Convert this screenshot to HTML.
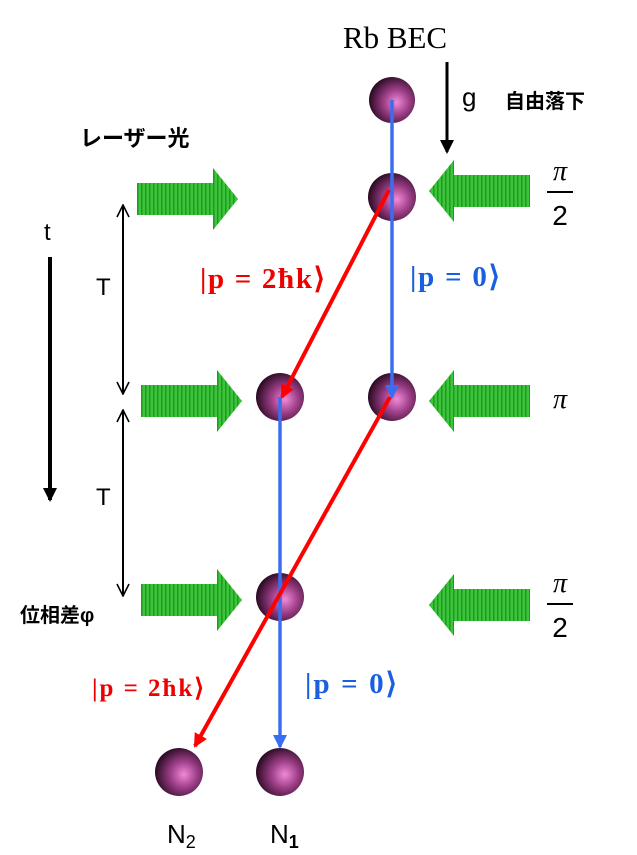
<!DOCTYPE html>
<html><head><meta charset="utf-8"><style>
html,body{margin:0;padding:0;background:#fff;}
svg{display:block}
</style></head><body>
<svg width="637" height="855" viewBox="0 0 637 855" xmlns="http://www.w3.org/2000/svg">
<defs>
<radialGradient id="ball" cx="0.6" cy="0.55" r="0.6">
<stop offset="0" stop-color="#f08ad8"/><stop offset="0.45" stop-color="#a0408a"/><stop offset="1" stop-color="#2a0a22"/>
</radialGradient>
<pattern id="stripe" width="4" height="4" patternUnits="userSpaceOnUse">
<rect width="4" height="4" fill="#3cc43c"/><rect width="1.5" height="4" fill="#1e9a1e"/>
</pattern>
<marker id="ab" markerWidth="14" markerHeight="14" refX="12" refY="7" orient="auto" markerUnits="userSpaceOnUse"><path d="M0,0 L14,7 L0,14z" fill="#000"/></marker>
<marker id="ao" markerWidth="14" markerHeight="14" refX="13" refY="7" orient="auto-start-reverse" markerUnits="userSpaceOnUse"><path d="M1,1 L13,7 L1,13" fill="none" stroke="#000" stroke-width="1.6"/></marker>
<marker id="blu" markerWidth="14" markerHeight="14" refX="12" refY="7" orient="auto" markerUnits="userSpaceOnUse"><path d="M0,0 L14,7 L0,14z" fill="#3a6ef0"/></marker>
<marker id="red" markerWidth="14" markerHeight="14" refX="12" refY="7" orient="auto" markerUnits="userSpaceOnUse"><path d="M0,0 L14,7 L0,14z" fill="#f00"/></marker>
<g id="ra"><path d="M0,15 H76 V0 L101,31 L76,62 V47 H0z" fill="url(#stripe)"/></g>
<g id="la"><path d="M101,15 H25 V0 L0,31 L25,62 V47 H101z" fill="url(#stripe)"/></g>
</defs>
<g font-family="Liberation Sans, sans-serif">
<text x="395" y="48" font-family="Liberation Serif, serif" font-size="31" text-anchor="middle">Rb BEC</text>
<text x="80" y="146" font-family="Liberation Sans, 'Noto Sans CJK JP', sans-serif" font-weight="bold" font-size="22">レーザー光</text>
<text x="462" y="106" font-size="26">g</text>
<text x="505" y="108" font-family="Liberation Sans, 'Noto Sans CJK JP', sans-serif" font-weight="bold" font-size="20">自由落下</text>
<line x1="447" y1="62" x2="447" y2="152" stroke="#000" stroke-width="3" marker-end="url(#ab)"/>
<text x="44" y="240" font-size="24">t</text>
<line x1="50" y1="257" x2="50" y2="500" stroke="#000" stroke-width="4" marker-end="url(#ab)"/>
<line x1="123" y1="205" x2="123" y2="394" stroke="#000" stroke-width="2" marker-start="url(#ao)" marker-end="url(#ao)"/>
<line x1="123" y1="410" x2="123" y2="596" stroke="#000" stroke-width="2" marker-start="url(#ao)" marker-end="url(#ao)"/>
<text x="96" y="295" font-size="24">T</text>
<text x="96" y="505" font-size="24">T</text>
<text x="20" y="622" font-family="Liberation Sans, 'Noto Sans CJK JP', sans-serif" font-weight="bold" font-size="20">位相差φ</text>
<use href="#ra" x="137" y="168"/>
<use href="#ra" x="141" y="370"/>
<use href="#ra" x="141" y="569"/>
<use href="#la" x="429" y="160"/>
<use href="#la" x="429" y="370"/>
<use href="#la" x="429" y="574"/>
<g font-family="Liberation Serif, serif" font-size="28" text-anchor="middle">
<text x="560" y="180" font-style="italic">π</text><line x1="547" y1="192" x2="573" y2="192" stroke="#000" stroke-width="2"/><text x="560" y="225" font-family="Liberation Sans, sans-serif">2</text>
<text x="560" y="408" font-style="italic">π</text>
<text x="560" y="592" font-style="italic">π</text><line x1="547" y1="604" x2="573" y2="604" stroke="#000" stroke-width="2"/><text x="560" y="637" font-family="Liberation Sans, sans-serif">2</text>
</g>
<circle cx="392" cy="100" r="23" fill="url(#ball)"/>
<circle cx="392" cy="197" r="24" fill="url(#ball)"/>
<circle cx="280" cy="397" r="24" fill="url(#ball)"/>
<circle cx="392" cy="397" r="24" fill="url(#ball)"/>
<circle cx="280" cy="597" r="24" fill="url(#ball)"/>
<circle cx="179" cy="772" r="24" fill="url(#ball)"/>
<circle cx="280" cy="772" r="24" fill="url(#ball)"/>
<line x1="392" y1="100" x2="392" y2="397" stroke="#3a6ef0" stroke-width="3.5" marker-end="url(#blu)"/>
<line x1="280" y1="397" x2="280" y2="747" stroke="#3a6ef0" stroke-width="3.5" marker-end="url(#blu)"/>
<line x1="389" y1="190" x2="282" y2="397" stroke="#f00" stroke-width="4" marker-end="url(#red)"/>
<line x1="390" y1="397" x2="195" y2="746" stroke="#f00" stroke-width="4" marker-end="url(#red)"/>
<g font-family="Liberation Serif, serif" font-weight="bold" font-size="29">
<text x="200" y="288" fill="#e00" textLength="125">|p = 2ħk⟩</text>
<text x="410" y="286" fill="#1a5fe0" textLength="90">|p = 0⟩</text>
<text x="92" y="696" fill="#e00" font-size="25" textLength="112">|p = 2ħk⟩</text>
<text x="305" y="693" fill="#1a5fe0" textLength="92">|p = 0⟩</text>
</g>
<text x="167" y="843" font-size="26">N<tspan font-size="18" dy="5">2</tspan></text>
<text x="270" y="843" font-size="26">N<tspan font-size="18" dy="5" font-weight="bold">1</tspan></text>
</g>
</svg>
</body></html>
